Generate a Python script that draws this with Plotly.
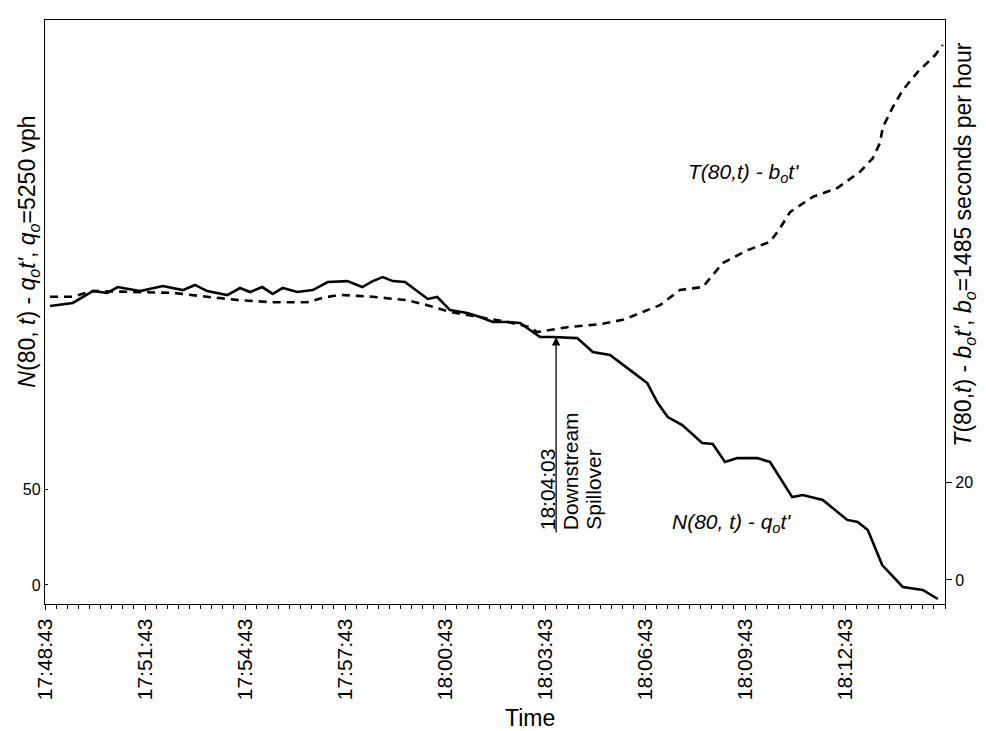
import numpy as np
import plotly.graph_objects as go

# ---------------- data ----------------
start_time = "17:48:43"
tick_labels = ["17:48:43", "17:51:43", "17:54:43", "17:57:43", "18:00:43",
               "18:03:43", "18:06:43", "18:09:43", "18:12:43"]
spill_time = "18:04:03"

# N(80,t) - q0 t'  (left axis), time in seconds after 17:48:43
n_time_s = [9, 50, 86, 112, 131, 171, 212, 248, 270, 292,
            328, 351, 369, 391, 410, 428, 454, 482, 509, 544,
            571, 590, 608, 626, 648, 671, 689, 706, 729, 760,
            783, 806, 832, 855, 873, 891, 914, 958, 986, 1017,
            1058, 1084, 1103, 1121, 1147, 1183, 1202, 1224, 1246, 1282,
            1305, 1345, 1364, 1400, 1444, 1463, 1481, 1507, 1544, 1580,
            1607]
n_values = [145.3, 146.9, 153.1, 152.1, 155.2, 153.1, 155.7, 153.6, 156.3, 153.1,
            151.0, 154.7, 152.6, 155.2, 151.6, 154.7, 152.6, 153.6, 157.8, 158.3,
            155.2, 158.3, 160.4, 158.3, 157.8, 152.6, 149.0, 150.0, 143.2, 141.7,
            139.6, 137.0, 137.0, 136.5, 132.8, 129.2, 129.2, 128.6, 121.4, 119.8,
            110.9, 105.2, 94.8, 87.5, 83.3, 74.0, 73.4, 64.1, 66.1, 66.1,
            64.1, 45.8, 46.9, 44.3, 33.9, 32.8, 28.6, 10.4, -1.0, -2.6,
            -7.3]

# T(80,t) - b0 t'  (right axis)
t_time_s = [9, 50, 86, 171, 230, 292, 351, 410, 472, 500,
            531, 562, 590, 652, 688, 729, 770, 832, 873, 886,
            940, 999, 1040, 1076, 1107, 1143, 1184, 1220, 1264, 1305,
            1323, 1341, 1382, 1426, 1467, 1490, 1503, 1508, 1526, 1544,
            1571, 1602, 1616]
t_values = [57.8, 57.8, 59.0, 58.8, 58.6, 57.8, 57.1, 56.7, 56.7, 57.6,
            58.2, 58.0, 57.8, 57.1, 56.1, 54.7, 53.9, 52.7, 51.6, 50.6,
            51.6, 52.2, 53.1, 54.7, 56.1, 59.2, 59.8, 64.7, 67.3, 69.0,
            71.8, 75.1, 78.2, 80.0, 83.3, 86.1, 89.2, 92.4, 96.5, 100.0,
            103.7, 107.1, 109.2]

left_ticks = [0, 50]
right_ticks = [0, 20]


def to_sec(s):
    h, m, sec = (int(v) for v in s.split(":"))
    return h * 3600 + m * 60 + sec


t0 = to_sec(start_time)
tick_vals = [to_sec(s) - t0 for s in tick_labels]
spill_s = to_sec(spill_time) - t0
spill_y = float(np.interp(spill_s, n_time_s, n_values))

FONT = "Liberation Sans, Arial, Helvetica, sans-serif"

fig = go.Figure()
fig.add_trace(go.Scatter(x=n_time_s, y=n_values, mode="lines",
                         line=dict(color="black", width=2.6),
                         yaxis="y", showlegend=False))
fig.add_trace(go.Scatter(x=t_time_s, y=t_values, mode="lines",
                         line=dict(color="black", width=2.6, dash="8px,6px"),
                         yaxis="y2", showlegend=False))

annotations = []
# arrow for spillover
annotations.append(dict(x=spill_s, y=spill_y, xref="x", yref="y", text="",
                        showarrow=True, ax=0, ay=197, arrowhead=2, arrowsize=1.3,
                        arrowwidth=1.3, arrowcolor="black", standoff=0))
# spillover text (three rotated lines)
for txt, dx in [(spill_time, -9), ("Downstream", 14), ("Spillover", 38)]:
    annotations.append(dict(x=spill_s, y=0.123, xref="x", yref="paper", text=txt,
                            textangle=-90, showarrow=False, xanchor="center",
                            yanchor="bottom", xshift=dx,
                            font=dict(family=FONT, size=21, color="black")))
# curve labels
annotations.append(dict(x=0.84, y=0.763, xref="paper", yref="paper",
                        text="<i>T(80,t) - b<sub>o</sub>t'</i>", showarrow=False,
                        font=dict(family=FONT, size=21, color="black")))
annotations.append(dict(x=0.831, y=0.113, xref="paper", yref="paper",
                        text="<i>N(80, t) - q<sub>o</sub>t'</i>", showarrow=False,
                        font=dict(family=FONT, size=21, color="black")))
# axis titles
annotations.append(dict(x=-0.018, y=0.603, xref="paper", yref="paper",
                        text="<i>N</i>(80, <i>t</i>) - <i>q<sub>o</sub>t'</i>, <i>q<sub>o</sub></i>=5250 vph",
                        textangle=-90, showarrow=False, xanchor="center", yanchor="middle",
                        font=dict(family=FONT, size=23, color="black")))
annotations.append(dict(x=1.022, y=0.615, xref="paper", yref="paper",
                        text="<i>T</i>(80,<i>t</i>) - <i>b<sub>o</sub>t'</i>, <i>b<sub>o</sub></i>=1485 seconds per hour",
                        textangle=-90, showarrow=False, xanchor="center", yanchor="middle",
                        font=dict(family=FONT, size=23, color="black")))
annotations.append(dict(x=0.539, y=-0.195, xref="paper", yref="paper", text="Time",
                        showarrow=False, xanchor="center", yanchor="middle",
                        font=dict(family=FONT, size=23, color="black")))

# the page body has an 8px margin, so the figure is sized to fit inside it
fig.update_layout(
    width=978, height=723,
    margin=dict(l=37, r=41, t=12, b=127, autoexpand=False),
    paper_bgcolor="white", plot_bgcolor="white",
    font=dict(family=FONT, color="black"),
    xaxis=dict(range=[0, 1620], tickmode="array", tickvals=tick_vals, ticktext=tick_labels,
               tickangle=-90, tickfont=dict(size=21), showline=True, linecolor="black",
               linewidth=1.3, mirror=True, ticks="outside", ticklen=5, tickcolor="black",
               showgrid=False, zeroline=False, automargin=False,
               minor=dict(tickmode="linear", tick0=0, dtick=20, ticks="outside",
                          ticklen=4, tickcolor="black", showgrid=False)),
    yaxis=dict(range=[-9.9, 294.3], tickmode="array", tickvals=left_ticks,
               tickfont=dict(size=16), showline=True, linecolor="black", linewidth=1.3,
               ticks="inside", ticklen=3, tickcolor="black", showgrid=False, zeroline=False,
               automargin=False),
    yaxis2=dict(range=[-4.9, 114.3], overlaying="y", side="right", tickmode="array",
                tickvals=right_ticks, tickfont=dict(size=16), showline=True,
                linecolor="black", linewidth=1.3, ticks="outside", ticklen=6,
                tickcolor="black", showgrid=False, zeroline=False, automargin=False),
    annotations=annotations,
)

fig.write_html("out.html")
